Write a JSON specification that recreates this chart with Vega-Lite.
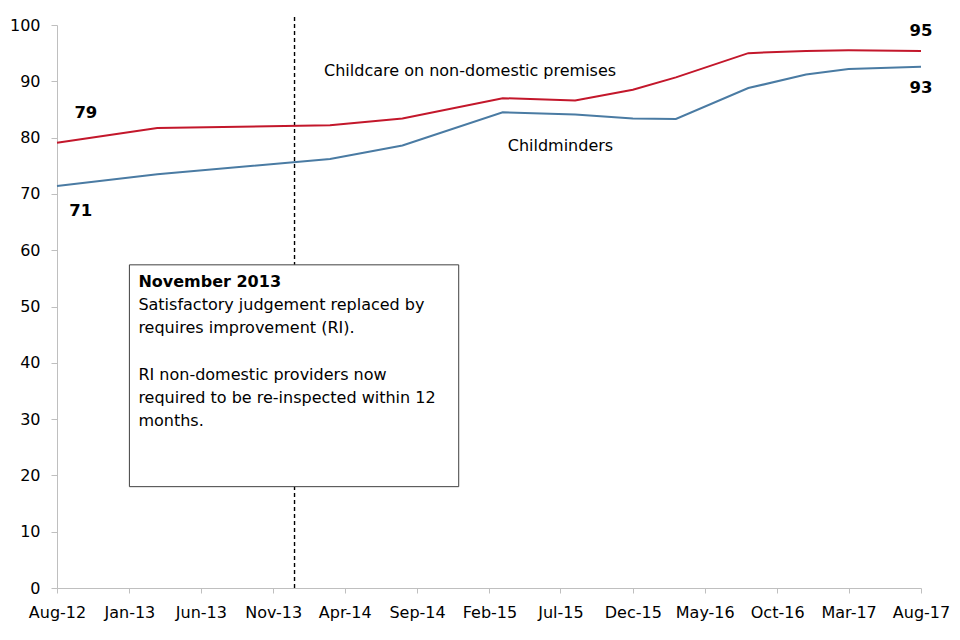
{
  "$schema": "https://vega.github.io/schema/vega-lite/v6.json",
  "width": 864,
  "height": 563,
  "autosize": {"type": "none"},
  "padding": {"left": 57, "top": 25, "right": 39, "bottom": 52},
  "background": "white",
  "config": {
    "view": {"stroke": null},
    "font": "DejaVu Sans",
    "axis": {"labelFont": "DejaVu Sans", "labelFontSize": 16, "labelColor": "black", "domainColor": "#BFBFBF", "tickColor": "#BFBFBF", "grid": false, "title": null}
  },
  "datasets": {
    "series": [
      {"date": "2012-08-01", "series": "Childcare on non-domestic premises", "value": 79.1},
      {"date": "2013-03-01", "series": "Childcare on non-domestic premises", "value": 81.7},
      {"date": "2014-03-01", "series": "Childcare on non-domestic premises", "value": 82.2},
      {"date": "2014-08-01", "series": "Childcare on non-domestic premises", "value": 83.4},
      {"date": "2015-03-01", "series": "Childcare on non-domestic premises", "value": 87.0},
      {"date": "2015-08-01", "series": "Childcare on non-domestic premises", "value": 86.6},
      {"date": "2015-12-01", "series": "Childcare on non-domestic premises", "value": 88.5},
      {"date": "2016-03-01", "series": "Childcare on non-domestic premises", "value": 90.7},
      {"date": "2016-08-01", "series": "Childcare on non-domestic premises", "value": 95.0},
      {"date": "2016-12-01", "series": "Childcare on non-domestic premises", "value": 95.4},
      {"date": "2017-03-01", "series": "Childcare on non-domestic premises", "value": 95.5},
      {"date": "2017-08-01", "series": "Childcare on non-domestic premises", "value": 95.4},
      {"date": "2012-08-01", "series": "Childminders", "value": 71.4},
      {"date": "2013-03-01", "series": "Childminders", "value": 73.5},
      {"date": "2014-03-01", "series": "Childminders", "value": 76.2},
      {"date": "2014-08-01", "series": "Childminders", "value": 78.6},
      {"date": "2015-03-01", "series": "Childminders", "value": 84.5},
      {"date": "2015-08-01", "series": "Childminders", "value": 84.1},
      {"date": "2015-12-01", "series": "Childminders", "value": 83.4},
      {"date": "2016-03-01", "series": "Childminders", "value": 83.3},
      {"date": "2016-08-01", "series": "Childminders", "value": 88.8},
      {"date": "2016-12-01", "series": "Childminders", "value": 91.2},
      {"date": "2017-03-01", "series": "Childminders", "value": 92.2},
      {"date": "2017-08-01", "series": "Childminders", "value": 92.6}
    ],
    "boldlabels": [
      {"date": "2012-10-01", "value": 84.4, "text": "79"},
      {"date": "2012-09-20", "value": 67.0, "text": "71"},
      {"date": "2017-08-01", "value": 98.9, "text": "95"},
      {"date": "2017-08-01", "value": 88.8, "text": "93"}
    ],
    "serieslabels": [
      {"date": "2014-12-22", "value": 91.8, "text": "Childcare on non-domestic premises"},
      {"date": "2015-07-01", "value": 78.5, "text": "Childminders"}
    ],
    "box": [
      {"start": "2013-01-01", "end": "2014-11-28", "top": 57.4, "bottom": 18.0}
    ],
    "boxtitle": [
      {"date": "2013-01-20", "value": 54.4, "text": "November 2013"}
    ],
    "boxtext": [
      {"date": "2013-01-20", "value": 50.3, "text": "Satisfactory judgement replaced by"},
      {"date": "2013-01-20", "value": 46.2, "text": "requires improvement (RI)."},
      {"date": "2013-01-20", "value": 37.9, "text": "RI non-domestic providers now"},
      {"date": "2013-01-20", "value": 33.8, "text": "required to be re-inspected within 12"},
      {"date": "2013-01-20", "value": 29.7, "text": "months."}
    ],
    "event": [
      {"date": "2013-12-16", "top": 101.4, "bottom": 0}
    ]
  },
  "layer": [
    {
      "data": {"name": "event"},
      "mark": {"type": "rule", "color": "black", "strokeDash": [4, 3], "strokeWidth": 1.4},
      "encoding": {
        "x": {"field": "date", "type": "temporal"},
        "y": {"field": "top", "type": "quantitative"},
        "y2": {"field": "bottom"}
      }
    },
    {
      "data": {"name": "box"},
      "mark": {"type": "rect", "fill": "white", "stroke": "#404040", "strokeWidth": 1},
      "encoding": {
        "x": {"field": "start", "type": "temporal"},
        "x2": {"field": "end"},
        "y": {"field": "top", "type": "quantitative"},
        "y2": {"field": "bottom"}
      }
    },
    {
      "data": {"name": "series"},
      "mark": {"type": "line", "strokeWidth": 2},
      "encoding": {
        "x": {
          "field": "date", "type": "temporal",
          "scale": {"type": "utc", "domain": [{"year": 2012, "month": 8, "date": 1, "utc": true}, {"year": 2017, "month": 8, "date": 1, "utc": true}]},
          "axis": {
            "format": "%b-%y",
            "values": [
              {"year": 2012, "month": 8, "date": 1, "utc": true},
              {"year": 2013, "month": 1, "date": 1, "utc": true},
              {"year": 2013, "month": 6, "date": 1, "utc": true},
              {"year": 2013, "month": 11, "date": 1, "utc": true},
              {"year": 2014, "month": 4, "date": 1, "utc": true},
              {"year": 2014, "month": 9, "date": 1, "utc": true},
              {"year": 2015, "month": 2, "date": 1, "utc": true},
              {"year": 2015, "month": 7, "date": 1, "utc": true},
              {"year": 2015, "month": 12, "date": 1, "utc": true},
              {"year": 2016, "month": 5, "date": 1, "utc": true},
              {"year": 2016, "month": 10, "date": 1, "utc": true},
              {"year": 2017, "month": 3, "date": 1, "utc": true},
              {"year": 2017, "month": 8, "date": 1, "utc": true}
            ],
            "tickSize": 5, "labelPadding": 11, "labelAngle": 0, "labelFlush": false, "labelOverlap": false
          }
        },
        "y": {
          "field": "value", "type": "quantitative",
          "scale": {"domain": [0, 100], "nice": false, "zero": true},
          "axis": {"values": [0, 10, 20, 30, 40, 50, 60, 70, 80, 90, 100], "tickSize": 6, "labelPadding": 11}
        },
        "color": {
          "field": "series", "type": "nominal",
          "scale": {"domain": ["Childcare on non-domestic premises", "Childminders"], "range": ["#C3172B", "#4A7BA3"]},
          "legend": null
        }
      }
    },
    {
      "data": {"name": "boldlabels"},
      "mark": {"type": "text", "fontSize": 16.5, "fontWeight": "bold", "color": "black", "align": "center", "baseline": "middle"},
      "encoding": {
        "x": {"field": "date", "type": "temporal"},
        "y": {"field": "value", "type": "quantitative"},
        "text": {"field": "text"}
      }
    },
    {
      "data": {"name": "serieslabels"},
      "mark": {"type": "text", "fontSize": 16, "color": "black", "align": "center", "baseline": "middle"},
      "encoding": {
        "x": {"field": "date", "type": "temporal"},
        "y": {"field": "value", "type": "quantitative"},
        "text": {"field": "text"}
      }
    },
    {
      "data": {"name": "boxtitle"},
      "mark": {"type": "text", "fontSize": 16, "fontWeight": "bold", "color": "black", "align": "left", "baseline": "middle"},
      "encoding": {
        "x": {"field": "date", "type": "temporal"},
        "y": {"field": "value", "type": "quantitative"},
        "text": {"field": "text"}
      }
    },
    {
      "data": {"name": "boxtext"},
      "mark": {"type": "text", "fontSize": 16, "color": "black", "align": "left", "baseline": "middle"},
      "encoding": {
        "x": {"field": "date", "type": "temporal"},
        "y": {"field": "value", "type": "quantitative"},
        "text": {"field": "text"}
      }
    }
  ]
}
